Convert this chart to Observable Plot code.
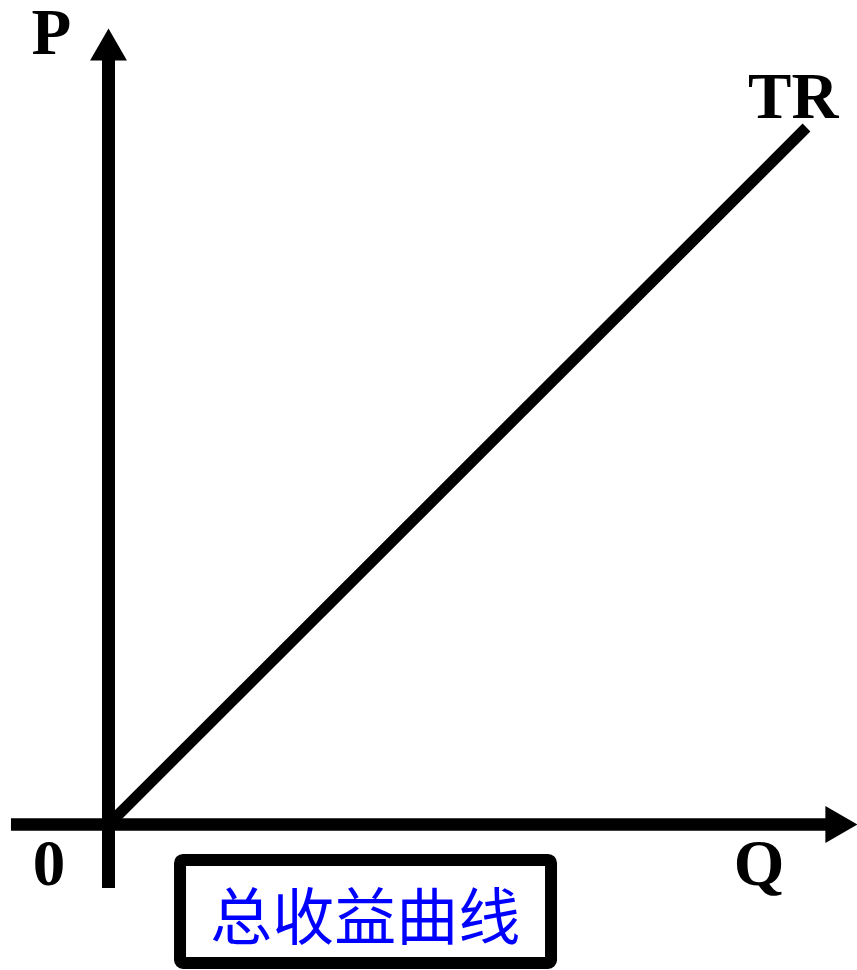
<!DOCTYPE html>
<html>
<head>
<meta charset="utf-8">
<script src="https://cdn.jsdelivr.net/npm/d3@7"></script>
<script src="https://cdn.jsdelivr.net/npm/@observablehq/plot@0.6"></script>
<style>
  html, body { margin: 0; padding: 0; background: #fff; }
  #chart svg { display: block; }
</style>
</head>
<body>
<div id="chart"></div>
<script>
// Total revenue curve TR = P·Q (straight line through the origin)
const trQuantity = [0, 1];
const trRevenue = [0, 1];
// Axis extents (in the chart's units)
const qAxisExtent = [-0.139, 1.073];
const pAxisExtent = [-0.092, 1.142];
// Labels
const axisLabels = ["P", "Q", "0"];
const curveLabel = "TR";
const captionText = "总收益曲线";

const trData = trQuantity.map((q, i) => ({q, r: trRevenue[i]}));
const serif = "'Liberation Serif', 'DejaVu Serif', serif";

const chart = Plot.plot({
  width: 857,
  height: 970,
  margin: 0,
  style: {background: "#fff", overflow: "visible"},
  x: {domain: [0, 1], range: [108, 806], axis: null},
  y: {domain: [0, 1], range: [824, 127], axis: null},
  marks: [
    // axes
    Plot.ruleY([0], {x1: qAxisExtent[0], x2: qAxisExtent[1] - 0.03, stroke: "#000", strokeWidth: 12.5}),
    Plot.ruleX([0], {y1: pAxisExtent[0], y2: pAxisExtent[1] - 0.03, stroke: "#000", strokeWidth: 13}),
    Plot.dot([{q: qAxisExtent[1], r: 0}], {x: "q", y: "r", symbol: "triangle", r: 13.7, fill: "#000", stroke: null, rotate: 90, dx: -21.4}),
    Plot.dot([{q: 0, r: pAxisExtent[1]}], {x: "q", y: "r", symbol: "triangle", r: 13.7, fill: "#000", stroke: null, dy: 21.4}),
    // TR line
    Plot.line(trData, {x: "q", y: "r", stroke: "#000", strokeWidth: 11, strokeLinecap: "butt"}),
    // labels
    Plot.text([axisLabels[0]], {x: -0.0817, y: 1.106, text: d => d, fontFamily: serif, fontWeight: "bold", fontSize: 65, fill: "#000", textAnchor: "middle", lineAnchor: "bottom"}),
    Plot.text([curveLabel], {x: 0.981, y: 1.014, text: d => d, fontFamily: serif, fontWeight: "bold", fontSize: 65, fill: "#000", textAnchor: "middle", lineAnchor: "bottom"}),
    Plot.text([axisLabels[2]], {x: -0.0852, y: -0.0875, text: d => d, fontFamily: serif, fontWeight: "bold", fontSize: 65, fill: "#000", textAnchor: "middle", lineAnchor: "bottom"}),
    Plot.text([axisLabels[1]], {x: 0.932, y: -0.0875, text: d => d, fontFamily: serif, fontWeight: "bold", fontSize: 65, fill: "#000", textAnchor: "middle", lineAnchor: "bottom"}),
    // caption box
    Plot.rect([{}], {x1: 0.1032, x2: 0.6347, y1: -0.0516, y2: -0.1994, fill: "#fff", stroke: "#000", strokeWidth: 12, rx: 3}),
    Plot.text([captionText], {x: 0.368, y: -0.1664, text: d => d, fontFamily: "'Noto Sans CJK SC', sans-serif", fontSize: 62, fill: "#0000ff", textAnchor: "middle", lineAnchor: "bottom"})
  ]
});
document.getElementById("chart").appendChild(chart);
</script>
</body>
</html>
